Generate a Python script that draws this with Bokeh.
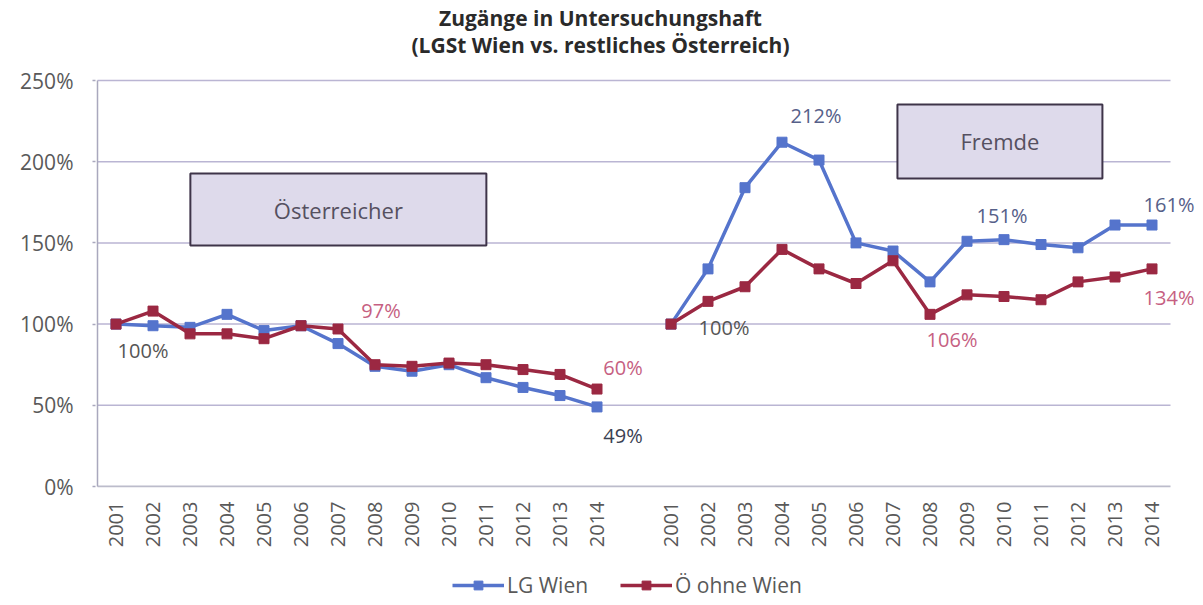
import numpy as np
from bokeh.plotting import figure
from bokeh.layouts import column
from bokeh.models import (Range1d, FixedTicker, Label, Legend, LegendItem,
                          BoxAnnotation, PrintfTickFormatter)
from bokeh.embed import file_html
from bokeh.resources import INLINE

# ---------------- data ----------------
years = ["2001", "2002", "2003", "2004", "2005", "2006", "2007",
         "2008", "2009", "2010", "2011", "2012", "2013", "2014"]
groups = ["Österreicher", "Fremde"]
series_names = ["LG Wien", "Ö ohne Wien"]

lg_wien_oesterreicher = [100, 99, 98, 106, 96, 99, 88, 74, 71, 75, 67, 61, 56, 49]
oe_ohne_wien_oesterreicher = [100, 108, 94, 94, 91, 99, 97, 75, 74, 76, 75, 72, 69, 60]
lg_wien_fremde = [100, 134, 184, 212, 201, 150, 145, 126, 151, 152, 149, 147, 161, 161]
oe_ohne_wien_fremde = [100, 114, 123, 146, 134, 125, 139, 106, 118, 117, 115, 126, 129, 134]

y_ticks = [0, 50, 100, 150, 200, 250]

title_line1 = "Zugänge in Untersuchungshaft"
title_line2 = "(LGSt Wien vs. restliches Österreich)"

# ---------------- styling ----------------
BLUE = "#5574cc"
RED = "#9b2842"
GRID = "#bab5d3"
FONT = "Open Sans"
TXT = "#595959"

n = len(years)
x_left = np.arange(n)
x_right = np.arange(n) + n + 1  # one empty category between the groups
x_lo, x_hi = -0.5, 2 * n + 0.5   # extent of the category axis
y_lo, y_hi = y_ticks[0], y_ticks[-1]

# pixel geometry: category width 37px, 406px for 0..250%
PX_X = 37.0
PX_Y = 406.0 / (y_hi - y_lo)
W, H = 1203, 605
H_LEG = 45
H_MAIN = H - H_LEG
LEFT, TOP_PX = 97, 80          # page position of (x_lo, y_hi)
frame_left = 95
x_start = x_lo - (LEFT - frame_left) / PX_X
x_end = x_lo + (W - LEFT) / PX_X
y_start = y_lo - 1.0 / PX_Y
y_end = y_hi + TOP_PX / PX_Y
frame_h = int(round((y_end - y_start) * PX_Y))

p = figure(width=W, height=H_MAIN, output_backend="svg", toolbar_location=None,
           x_range=Range1d(x_start, x_end), y_range=Range1d(y_start, y_end),
           min_border_left=frame_left, min_border_right=0, min_border_top=0,
           min_border_bottom=H_MAIN - frame_h)
p.outline_line_color = None
p.background_fill_color = "white"
p.border_fill_color = "white"

# y axis
p.yaxis.ticker = FixedTicker(ticks=y_ticks)
p.yaxis.formatter = PrintfTickFormatter(format="%d%%")
p.yaxis.major_label_text_font = FONT
p.yaxis.major_label_text_font_size = "21px"
p.yaxis.major_label_text_color = TXT
p.yaxis.axis_line_color = None
p.yaxis.major_tick_in = 0
p.yaxis.major_tick_out = 3
p.yaxis.major_tick_line_color = "#a9a8bd"
p.yaxis.major_tick_line_width = 1.5
p.yaxis.minor_tick_line_color = None
p.yaxis.major_label_standoff = 19

# x axis (categories, two groups separated by an empty slot)
xt = list(x_left) + list(x_right)
p.xaxis.ticker = FixedTicker(ticks=[int(t) for t in xt])
p.xaxis.major_label_overrides = {int(t): years[i % n] for i, t in enumerate(xt)}
p.xaxis.major_label_orientation = np.pi / 2
p.xaxis.major_label_text_font = FONT
p.xaxis.major_label_text_font_size = "20px"
p.xaxis.major_label_text_color = TXT
p.xaxis.axis_line_color = None
p.xaxis.major_tick_line_color = None
p.xaxis.major_tick_out = 0
p.xaxis.major_tick_in = 0
p.xaxis.minor_tick_line_color = None
p.xaxis.major_label_standoff = 14

p.xgrid.grid_line_color = None
p.ygrid.grid_line_color = None

# grid lines and axis lines limited to the category extent
p.segment(x0=[x_lo] * (len(y_ticks) - 1), x1=[x_hi] * (len(y_ticks) - 1),
          y0=y_ticks[1:], y1=y_ticks[1:], line_color=GRID, line_width=1.5)
p.segment(x0=[x_lo], x1=[x_hi], y0=[y_lo], y1=[y_lo], line_color="#bcbccb", line_width=2)
p.segment(x0=[x_lo], x1=[x_lo], y0=[y_lo], y1=[y_hi], line_color="#a9a8bd", line_width=1.5)

# series
for name, color, vals in [
        (series_names[0], BLUE, (lg_wien_oesterreicher, lg_wien_fremde)),
        (series_names[1], RED, (oe_ohne_wien_oesterreicher, oe_ohne_wien_fremde))]:
    for xs, ys in zip((x_left, x_right), vals):
        p.line(xs, ys, line_color=color, line_width=3.5)
        p.scatter(xs, ys, marker="square", size=10, fill_color=color, line_color=color)

# annotation boxes
def add_box(l, r, t, b, label):
    p.add_layout(BoxAnnotation(left=l, right=r, top=t, bottom=b,
                               fill_color="#dedaeb", fill_alpha=1.0,
                               line_color="#3e3449", line_alpha=1.0, line_width=2))
    p.add_layout(Label(x=(l + r) / 2, y=(t + b) / 2, text=label, text_align="center",
                       text_baseline="middle", text_font=FONT,
                       text_font_size="22px", text_color="#555060"))

add_box(2.01, 10.01, 192.7, 148.4, groups[0])
add_box(21.12, 26.66, 235.2, 189.7, groups[1])

# data labels (value taken from series, offsets in pixels)
def dlabel(x, yv, dx, dy, color):
    p.add_layout(Label(x=x, y=yv, x_offset=dx, y_offset=dy, text=f"{round(yv)}%",
                       text_align="center", text_baseline="middle",
                       text_font=FONT, text_font_size="20px", text_color=color))

PINK = "#c65f82"
BL = "#566089"
GR = "#555555"
dlabel(x_left[0], lg_wien_oesterreicher[0], 27, -26, GR)
dlabel(x_left[6], oe_ohne_wien_oesterreicher[6], 43, 18, PINK)
dlabel(x_left[13], oe_ohne_wien_oesterreicher[13], 26, 22, PINK)
dlabel(x_left[13], lg_wien_oesterreicher[13], 26, -29, "#3a4152")
dlabel(x_right[0], oe_ohne_wien_fremde[0], 53, -3, GR)
dlabel(x_right[3], lg_wien_fremde[3], 34, 27, BL)
dlabel(x_right[8], lg_wien_fremde[8], 35, 26, BL)
dlabel(x_right[13], lg_wien_fremde[13], 17, 21, BL)
dlabel(x_right[7], oe_ohne_wien_fremde[7], 22, -25, PINK)
dlabel(x_right[13], oe_ohne_wien_fremde[13], 17, -29, PINK)

# title (two lines, above the 250% line)
tx = x_lo + (600 - LEFT) / PX_X
p.add_layout(Label(x=tx, y=y_hi + (TOP_PX - 17) / PX_Y, text=title_line1,
                   text_align="center", text_baseline="middle", text_font=FONT,
                   text_font_size="21px", text_font_style="bold", text_color="#2a2a2a"))
p.add_layout(Label(x=tx, y=y_hi + (TOP_PX - 44) / PX_Y, text=title_line2,
                   text_align="center", text_baseline="middle", text_font=FONT,
                   text_font_size="21px", text_font_style="bold", text_color="#2a2a2a"))

# legend strip below the chart (frame aligned with the chart's frame)
q = figure(width=W, height=H_LEG, output_backend="svg", toolbar_location=None,
           x_range=Range1d(0, 1), y_range=Range1d(0, 1),
           x_axis_location=None, y_axis_location=None,
           min_border_left=0, min_border_right=0, min_border_top=0, min_border_bottom=0)
q.outline_line_color = None
q.xgrid.grid_line_color = None
q.ygrid.grid_line_color = None
items = []
for name, color in zip(series_names, (BLUE, RED)):
    l = q.line([-5, -4], [-5, -4], line_color=color, line_width=3.5)
    s = q.scatter([-5], [-5], marker="square", size=10, fill_color=color, line_color=color)
    items.append(LegendItem(label=name, renderers=[l, s]))
legend = Legend(items=items, orientation="horizontal", location=(357, 6), padding=0,
                margin=0, spacing=32, glyph_width=52, glyph_height=22, label_height=22,
                label_standoff=3, label_text_font=FONT, label_text_font_size="21px",
                label_text_color=TXT, border_line_color=None, background_fill_alpha=0)
q.add_layout(legend, "center")

open("out.html", "w").write(file_html(column(p, q, spacing=0), INLINE))
